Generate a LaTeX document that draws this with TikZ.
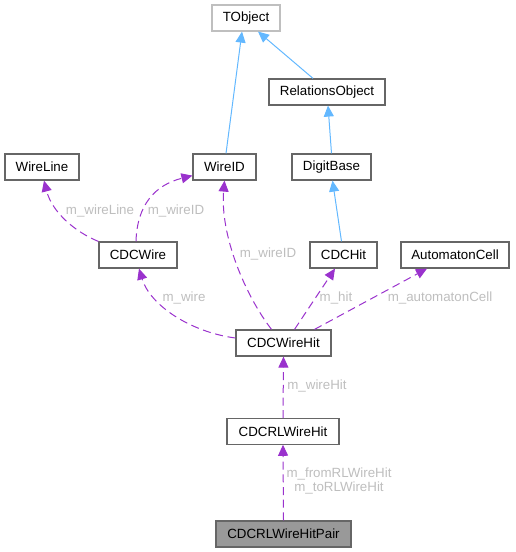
\documentclass[tikz,border=0pt]{standalone}
\usepackage{fontspec}
\setmainfont{Liberation Sans}
\usetikzlibrary{arrows.meta,calc}
\definecolor{purp}{HTML}{9A32CD}
\definecolor{bluee}{HTML}{63B8FF}
\definecolor{lbl}{HTML}{BEBEBE}
\definecolor{bord}{HTML}{666666}
\definecolor{tobj}{HTML}{BFBFBF}
\definecolor{pairfill}{HTML}{999999}
\begin{document}
\begin{tikzpicture}[x=0.75pt,y=-0.75pt,
 box/.style={draw=bord,line width=0.9pt,minimum height=19.5pt,inner sep=0pt,font=\fontsize{10}{12}\selectfont,fill=white},
 inh/.style={draw=bluee,line width=0.75pt,-{Triangle[length=8.25pt,width=7.5pt,fill=bluee]}},
 use/.style={draw=purp,line width=0.75pt,dash pattern=on 6pt off 3.5pt,-{Triangle[length=8.25pt,width=7.5pt,fill=purp]}},
 lab/.style={text=lbl,font=\fontsize{10}{12}\selectfont,inner sep=0pt}]
\useasboundingbox (0,0) rectangle (515,552);

\node[box,draw=tobj,minimum width=51pt] (TObject) at (246,18) {TObject};
\node[box,minimum width=87pt] (RelationsObject) at (327,92) {RelationsObject};
\node[box,minimum width=47.25pt] (WireID) at (224.5,167) {WireID};
\node[box,minimum width=59.25pt] (DigitBase) at (331.5,167) {DigitBase};
\node[box,minimum width=55.5pt] (WireLine) at (42,167) {WireLine};
\node[box,minimum width=58.5pt] (CDCWire) at (138,255) {CDCWire};
\node[box,minimum width=50.25pt] (CDCHit) at (343.5,255) {CDCHit};
\node[box,minimum width=81pt] (AutomatonCell) at (455,255) {AutomatonCell};
\node[box,minimum width=71.25pt] (CDCWireHit) at (283.5,343) {CDCWireHit};
\node[box,minimum width=84pt,minimum height=19pt] (CDCRLWireHit) at (283,431.5) {CDCRLWireHit};
\node[box,fill=pairfill,minimum width=101.25pt] (Pair) at (283.5,534) {CDCRLWireHitPair};

% inheritance
\draw[inh] ($(WireID.north)+(1.5,0)$) -- ($(TObject.south)+(-4,0)$);
\draw[inh] ($(RelationsObject.north)+(-14,0)$) -- ($(TObject.south)+(12,0)$);
\draw[inh] (DigitBase.north) -- ($(RelationsObject.south)+(1,0)$);
\draw[inh] ($(CDCHit.north)+(-2,0)$) -- ($(DigitBase.south)+(1,0)$);

% usage
\draw[use] (CDCWire.north west) .. controls (75,232) and (52,212) .. ($(WireLine.south)+(2,0)$);
\draw[use] ($(CDCWire.north)+(-2,0)$) .. controls (137,205) and (155,185) .. ($(WireID.south west)+(0,-5)$);
\draw[use] ($(CDCWireHit.north)+(-12,0)$) .. controls (245,295) and (220,235) .. (WireID.south);
\draw[use] ($(CDCWireHit.west)+(0,-5)$) .. controls (190,332) and (150,305) .. ($(CDCWire.south)+(1,0)$);
\draw[use] ($(CDCWireHit.north)+(11,0)$) -- ($(CDCHit.south)+(-8.5,0)$);
\draw[use] ($(CDCWireHit.north)+(31,0)$) -- ($(AutomatonCell.south)+(-28,0)$);
\draw[use] (CDCRLWireHit.north) -- (CDCWireHit.south);
\draw[use] (Pair.north) -- (CDCRLWireHit.south);

% labels
\node[lab] (l1) at (100,211) {m\_wireLine};
\node[lab] (l2) at (176,211) {m\_wireID};
\node[lab] (l3) at (268,254) {m\_wireID};
\node[lab] (l4) at (184,298) {m\_wire};
\node[lab] (l5) at (336,298) {m\_hit};
\node[lab] (l6) at (440,298) {m\_automatonCell};
\node[lab] (l7) at (317,386) {m\_wireHit};
\node[lab,align=center,font=\fontsize{10}{10.5}\selectfont] (l8) at (339,481) {m\_fromRLWireHit\\m\_toRLWireHit};
\end{tikzpicture}
\end{document}
